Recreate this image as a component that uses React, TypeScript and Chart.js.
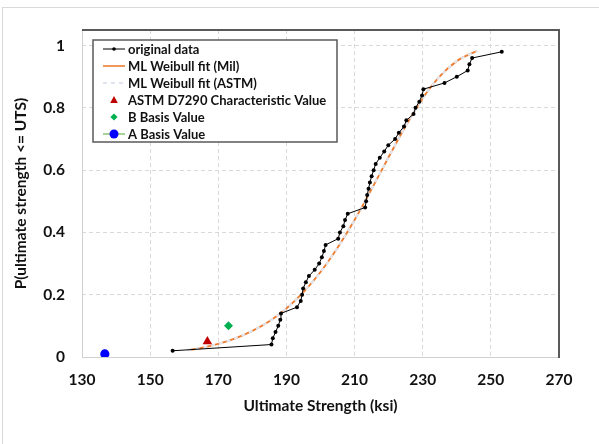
import { useEffect, useRef } from 'react';
import { Chart, registerables } from 'chart.js';

Chart.register(...registerables);

// ---- Data ----
const probabilities = [
  0.02, 0.04, 0.06, 0.08, 0.10, 0.12, 0.14, 0.16, 0.18, 0.20,
  0.22, 0.24, 0.26, 0.28, 0.30, 0.32, 0.34, 0.36, 0.38, 0.40,
  0.42, 0.44, 0.46, 0.48, 0.50, 0.52, 0.54, 0.56, 0.58, 0.60,
  0.62, 0.64, 0.66, 0.68, 0.70, 0.72, 0.74, 0.76, 0.78, 0.80,
  0.82, 0.84, 0.86, 0.88, 0.90, 0.92, 0.94, 0.96, 0.98,
];
const strengths = [
  156.6, 185.6, 186.0, 186.8, 187.6, 188.2, 188.4, 193.1, 194.2, 194.6,
  194.9, 195.7, 196.6, 198.3, 199.6, 200.4, 201.0, 201.5, 205.2, 205.7,
  206.7, 207.2, 208.0, 213.1, 213.4, 213.7, 214.1, 214.5, 215.0, 215.6,
  216.2, 217.4, 218.7, 219.9, 221.9, 223.0, 224.5, 225.2, 227.3, 227.9,
  229.0, 229.8, 230.2, 236.4, 240.0, 243.2, 243.7, 244.5, 253.2,
];
const fitStrengths = [161, 165, 170, 175, 180, 185, 190, 195, 200, 205, 210, 215, 220, 225, 230, 235, 240, 246];
const fitMilProb = [0.022, 0.029, 0.042, 0.060, 0.084, 0.115, 0.156, 0.208, 0.273, 0.351, 0.440, 0.539, 0.642, 0.742, 0.831, 0.901, 0.950, 0.983];
const fitAstmProb = [0.022, 0.029, 0.042, 0.060, 0.084, 0.115, 0.156, 0.208, 0.273, 0.351, 0.440, 0.539, 0.642, 0.742, 0.831, 0.901, 0.950, 0.983];
const characteristicValue = { x: 166.8, y: 0.05 };
const bBasisValue = { x: 173.0, y: 0.10 };
const aBasisValue = { x: 136.7, y: 0.01 };

const xTicks = [130, 150, 170, 190, 210, 230, 250, 270];
const yTicks = [0, 0.2, 0.4, 0.6, 0.8, 1];
const yTickLabels = ['0', '0.2', '0.4', '0.6', '0.8', '1'];

const seriesLabels = [
  'original data',
  'ML Weibull fit (Mil)',
  'ML Weibull fit (ASTM)',
  'ASTM D7290 Characteristic Value',
  'B Basis Value',
  'A Basis Value',
];

const FONT = 'Lato, "Open Sans", sans-serif';
const TEXT = '#111111';

function drawMarker(ctx: CanvasRenderingContext2D, style: string, x: number, y: number, r: number, color: string) {
  ctx.save();
  ctx.fillStyle = color;
  ctx.beginPath();
  if (style === 'triangle') {
    ctx.moveTo(x, y - r);
    ctx.lineTo(x + r * 0.95, y + r * 0.75);
    ctx.lineTo(x - r * 0.95, y + r * 0.75);
    ctx.closePath();
  } else if (style === 'rectRot') {
    ctx.moveTo(x, y - r);
    ctx.lineTo(x + r, y);
    ctx.lineTo(x, y + r);
    ctx.lineTo(x - r, y);
    ctx.closePath();
  } else {
    ctx.arc(x, y, r, 0, Math.PI * 2);
  }
  ctx.fill();
  ctx.restore();
}

const framePlugin = {
  id: 'frame',
  beforeDraw(chart: any) {
    const { ctx, width, height } = chart;
    ctx.save();
    ctx.fillStyle = '#ffffff';
    ctx.fillRect(0, 0, width, height);
    ctx.strokeStyle = '#d9d9d9';
    ctx.lineWidth = 1;
    ctx.strokeRect(2.5, 7.5, width + 20, height + 20);
    ctx.restore();
  },
  afterDatasetsDraw(chart: any) {
    const { ctx, chartArea: a } = chart;
    ctx.save();
    ctx.strokeStyle = '#d0d0d0';
    ctx.lineWidth = 1;
    ctx.beginPath();
    ctx.moveTo(a.left + 0.5, a.top);
    ctx.lineTo(a.left + 0.5, a.bottom + 0.5);
    ctx.lineTo(a.right, a.bottom + 0.5);
    ctx.stroke();
    ctx.strokeStyle = '#595959';
    ctx.lineWidth = 2;
    ctx.beginPath();
    ctx.moveTo(a.left, a.top);
    ctx.lineTo(a.right, a.top);
    ctx.lineTo(a.right, a.bottom + 1);
    ctx.stroke();
    ctx.restore();
  },
};

const boxLegendPlugin = {
  id: 'boxLegend',
  afterDraw(chart: any) {
    const { ctx } = chart;
    const x0 = 93, y0 = 40, w = 244, h = 102;
    ctx.save();
    ctx.fillStyle = '#ffffff';
    ctx.fillRect(x0, y0, w, h);
    ctx.strokeStyle = '#595959';
    ctx.lineWidth = 1.5;
    ctx.strokeRect(x0, y0, w, h);
    ctx.font = `bold 13px ${FONT}`;
    ctx.textBaseline = 'middle';
    ctx.textAlign = 'left';
    chart.data.datasets.forEach((ds: any, i: number) => {
      const y = 49 + i * 17;
      const lx1 = 103, lx2 = 125, mx = 114;
      if (ds.legendLine) {
        ctx.save();
        ctx.strokeStyle = ds.legendLineColor || ds.borderColor;
        ctx.lineWidth = ds.legendLineWidth || ds.borderWidth || 1;
        ctx.setLineDash(ds.borderDash || []);
        ctx.beginPath();
        ctx.moveTo(lx1, y);
        ctx.lineTo(lx2, y);
        ctx.stroke();
        ctx.restore();
      }
      if (ds.legendMarker) {
        drawMarker(ctx, ds.pointStyle || 'circle', mx, y, ds.legendMarkerRadius, ds.pointBackgroundColor);
      }
      ctx.fillStyle = TEXT;
      ctx.fillText(ds.label, 128, y + 0.5);
    });
    ctx.restore();
  },
};

export default function App() {
  const ref = useRef<HTMLCanvasElement>(null);

  useEffect(() => {
    document.body.style.margin = '0';
    const canvas = ref.current;
    if (!canvas) return;

    const datasets: any[] = [
      {
        label: seriesLabels[0],
        data: strengths.map((x, i) => ({ x, y: probabilities[i] })),
        showLine: true,
        borderColor: '#000000',
        borderWidth: 1,
        pointRadius: 2,
        pointBackgroundColor: '#000000',
        pointBorderColor: '#000000',
        pointBorderWidth: 0,
        order: 1,
        legendLine: true,
        legendMarker: true,
        legendMarkerRadius: 1.8,
      },
      {
        label: seriesLabels[1],
        data: fitStrengths.map((x, i) => ({ x, y: fitMilProb[i] })),
        showLine: true,
        borderColor: '#ED7D31',
        borderWidth: 1.9,
        pointRadius: 0,
        cubicInterpolationMode: 'monotone',
        order: 4,
        legendLine: true,
        legendLineWidth: 1.6,
      },
      {
        label: seriesLabels[2],
        data: fitStrengths.map((x, i) => ({ x, y: fitAstmProb[i] })),
        showLine: true,
        borderColor: '#e2e6ee',
        borderWidth: 2.2,
        borderDash: [4, 4],
        pointRadius: 0,
        cubicInterpolationMode: 'monotone',
        order: 3,
        legendLine: true,
        legendLineColor: '#d5dcec',
        legendLineWidth: 1.3,
      },
      {
        label: seriesLabels[3],
        data: [characteristicValue],
        showLine: false,
        pointStyle: 'triangle',
        pointRadius: 5.5,
        pointBackgroundColor: '#C00000',
        pointBorderColor: '#C00000',
        pointBorderWidth: 0,
        order: 0,
        legendMarker: true,
        legendMarkerRadius: 4,
      },
      {
        label: seriesLabels[4],
        data: [bBasisValue],
        showLine: false,
        pointStyle: 'rectRot',
        pointRadius: 4.5,
        pointBackgroundColor: '#00B050',
        pointBorderColor: '#00B050',
        pointBorderWidth: 0,
        order: 0,
        legendMarker: true,
        legendMarkerRadius: 3.6,
      },
      {
        label: seriesLabels[5],
        data: [aBasisValue],
        showLine: false,
        pointStyle: 'circle',
        pointRadius: 4.6,
        borderColor: '#4EA72E',
        pointBackgroundColor: '#0000FF',
        pointBorderColor: '#0000FF',
        pointBorderWidth: 0,
        order: 0,
        legendLine: true,
        legendMarker: true,
        legendMarkerRadius: 4.5,
      },
    ];

    const chart = new Chart(canvas, {
      type: 'scatter',
      data: { datasets },
      plugins: [framePlugin, boxLegendPlugin],
      options: {
        animation: false,
        responsive: false,
        devicePixelRatio: 1,
        layout: { padding: { left: 0, top: 30, right: 40, bottom: 0 } },
        plugins: { legend: { display: false }, tooltip: { enabled: false } },
        scales: {
          x: {
            type: 'linear',
            min: 130,
            max: 270,
            afterBuildTicks: (s: any) => { s.ticks = xTicks.map((v) => ({ value: v })); },
            afterFit: (s: any) => { s.height = 87; },
            ticks: {
              callback: (v: any) => String(v),
              color: TEXT,
              font: { family: FONT, size: 15.5, weight: 'bold' },
              padding: 14,
              maxRotation: 0,
            },
            grid: { color: '#d9d9d9', lineWidth: 1, drawTicks: false },
            border: { display: false, dash: [4, 3] },
            title: {
              display: true,
              text: 'Ultimate Strength (ksi)',
              color: TEXT,
              font: { family: FONT, size: 15.5, weight: 'bold' },
              padding: { top: 0, bottom: 29 },
            },
          },
          y: {
            type: 'linear',
            min: 0,
            max: 1.05,
            afterBuildTicks: (s: any) => { s.ticks = yTicks.map((v) => ({ value: v })); },
            afterFit: (s: any) => { s.width = 82; },
            ticks: {
              callback: (_v: any, i: number) => yTickLabels[i],
              color: TEXT,
              font: { family: FONT, size: 15.5, weight: 'bold' },
              padding: 17,
            },
            grid: { color: '#d9d9d9', lineWidth: 1, drawTicks: false },
            border: { display: false, dash: [4, 3] },
            title: {
              display: true,
              text: 'P(ultimate strength <= UTS)',
              color: TEXT,
              font: { family: FONT, size: 15.5, weight: 'bold' },
              padding: { top: 12, bottom: 0 },
            },
          },
        },
      } as any,
    });

    return () => chart.destroy();
  }, []);

  return (
    <div style={{ width: 599, height: 444 }}>
      <canvas ref={ref} width={599} height={444} style={{ display: 'block' }} />
    </div>
  );
}
